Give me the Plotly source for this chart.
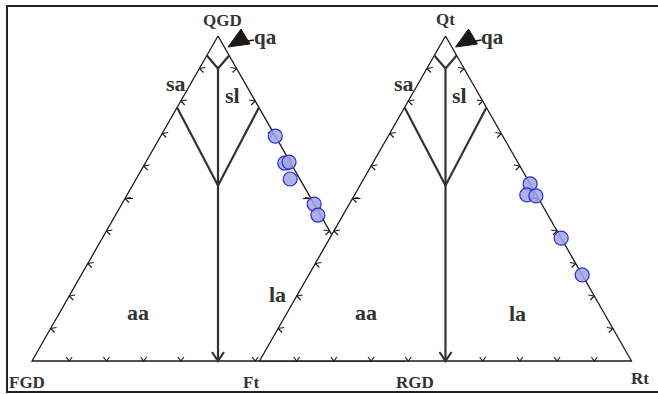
import plotly.graph_objects as go

# ---------------- data ----------------
TICKS = [0.1, 0.2, 0.3, 0.4, 0.5, 0.6, 0.7, 0.8, 0.9]
# boundary compositions (Q fraction)
QA_EDGE_Q = 0.94
QA_CENTER_Q = 0.90
SUB_EDGE_Q = 0.78
SUB_CENTER_Q = 0.54

# left diagram (QGD - FGD - Ft): Q and Ft fractions
left_Q = [0.692, 0.609, 0.612, 0.560, 0.483, 0.449]
left_R = [0.308, 0.375, 0.385, 0.414, 0.517, 0.544]
# right diagram (Qt - RGD - Rt)
right_Q = [0.545, 0.511, 0.508, 0.378, 0.265]
right_R = [0.455, 0.463, 0.489, 0.622, 0.735]

region_labels_left = [("sa", 0.855, -0.040), ("sl", 0.818, 0.129), ("aa", 0.148, 0.211), ("la", 0.206, 0.558)]
region_labels_right = [("sa", 0.855, -0.040), ("sl", 0.818, 0.129), ("aa", 0.148, 0.211), ("la", 0.145, 0.620)]

# ---------------- geometry ----------------
W, H, BASE = 372.0, 325.0, 361.0
ORIGINS = [32.0, 259.5]

EDGE_COL = "#1a1a1a"
INNER_COL = "#333333"
TXT_COL = "#333333"
FONT = "Liberation Serif"


def txy(q, r, x0):
    return x0 + W * (r + q / 2.0), BASE - H * q


fig = go.Figure()


def seg_trace(segs, width, color):
    xs, ys = [], []
    for s in segs:
        for p in s:
            xs.append(p[0]); ys.append(p[1])
        xs.append(None); ys.append(None)
    fig.add_trace(go.Scatter(x=xs, y=ys, mode="lines", line=dict(color=color, width=width),
                             hoverinfo="skip", showlegend=False))


def draw_triangle(x0, fill_white):
    A = txy(1, 0, x0); L = txy(0, 0, x0); Rv = txy(0, 1, x0)
    if fill_white:
        fig.add_trace(go.Scatter(x=[A[0], L[0], Rv[0], A[0]], y=[A[1], L[1], Rv[1], A[1]],
                                 mode="lines", fill="toself", fillcolor="white",
                                 line=dict(color=EDGE_COL, width=1.3), hoverinfo="skip", showlegend=False))
    else:
        seg_trace([[A, L, Rv, A]], 1.3, EDGE_COL)
    # ticks
    segs = []
    for t in TICKS:
        px, py = txy(t, 0, x0)  # left edge
        segs.append([(px + 6, py - 1), (px, py), (px + 4, py + 4)])
        if abs(t - 0.5) < 1e-9:
            segs.append([(px, py), (px + 8, py)])
        px, py = txy(t, 1 - t, x0)  # right edge
        segs.append([(px - 6, py - 1), (px, py), (px - 4, py + 4)])
        if abs(t - 0.5) < 1e-9:
            segs.append([(px, py), (px - 8, py)])
        if abs(t - 0.5) > 1e-9:
            px, py = txy(0, t, x0)  # base
            segs.append([(px - 3, py - 4), (px, py), (px + 3, py - 4)])
    seg_trace(segs, 1.1, EDGE_COL)
    # inner boundaries
    inner = []
    inner.append([txy(QA_EDGE_Q, 0, x0), txy(QA_CENTER_Q, (1 - QA_CENTER_Q) / 2, x0),
                  txy(QA_EDGE_Q, 1 - QA_EDGE_Q, x0)])
    inner.append([txy(SUB_EDGE_Q, 0, x0), txy(SUB_CENTER_Q, (1 - SUB_CENTER_Q) / 2, x0),
                  txy(SUB_EDGE_Q, 1 - SUB_EDGE_Q, x0)])
    top = txy(QA_CENTER_Q, (1 - QA_CENTER_Q) / 2, x0)
    bot = txy(0, 0.5, x0)
    inner.append([top, bot])
    inner.append([(bot[0] - 6, bot[1] - 9), bot, (bot[0] + 6, bot[1] - 9)])
    seg_trace(inner, 2.2, INNER_COL)


def draw_points(qs, rs, x0):
    xs, ys = [], []
    for q, r in zip(qs, rs):
        x, y = txy(q, r, x0)
        xs.append(x); ys.append(y)
    fig.add_trace(go.Scatter(x=xs, y=ys, mode="markers",
                             marker=dict(size=14, color="rgba(160,165,228,0.85)",
                                         line=dict(color="#2b2bd6", width=1.2)),
                             hoverinfo="skip", showlegend=False))


def labels(lst, x0):
    for name, q, r in lst:
        x, y = txy(q, r, x0)
        fig.add_annotation(x=x, y=y, text="<b>%s</b>" % name, showarrow=False,
                           font=dict(family=FONT, size=22, color=TXT_COL))


def qa_arrow(x0):
    ax, ay = txy(1, 0, x0)
    path = "M %f %f L %f %f L %f %f Z" % (ax + 10, ay + 11, ax + 23, ay - 7, ax + 32, ay + 8)
    fig.add_shape(type="path", path=path, fillcolor="#1a1a1a", line=dict(color="#1a1a1a", width=1))
    fig.add_shape(type="line", x0=ax + 30, y0=ay + 5, x1=ax + 36, y1=ay + 4, line=dict(color="#1a1a1a", width=1.5))
    fig.add_annotation(x=ax + 47, y=ay + 1, text="<b>qa</b>", showarrow=False,
                       font=dict(family=FONT, size=21, color=TXT_COL))


draw_triangle(ORIGINS[0], False)
draw_points(left_Q, left_R, ORIGINS[0])
labels(region_labels_left, ORIGINS[0])
qa_arrow(ORIGINS[0])

draw_triangle(ORIGINS[1], True)
draw_points(right_Q, right_R, ORIGINS[1])
labels(region_labels_right, ORIGINS[1])
qa_arrow(ORIGINS[1])

vertex_labels = [("QGD", 222, 20), ("FGD", 27, 382), ("Ft", 251, 382),
                 ("Qt", 445, 19), ("RGD", 415, 382), ("Rt", 640, 378)]
for name, x, y in vertex_labels:
    fig.add_annotation(x=x, y=y, text="<b>%s</b>" % name, showarrow=False,
                       font=dict(family=FONT, size=17, color=TXT_COL))

fig.add_shape(type="rect", x0=7, y0=6, x1=662, y1=392, line=dict(color="#222222", width=2))

fig.update_layout(
    width=658, height=394, margin=dict(l=0, r=0, t=0, b=0),
    paper_bgcolor="white", plot_bgcolor="white",
    xaxis=dict(range=[0, 658], visible=False, fixedrange=True),
    yaxis=dict(range=[394, 0], visible=False, fixedrange=True),
    showlegend=False,
)

fig.write_html("out.html")
